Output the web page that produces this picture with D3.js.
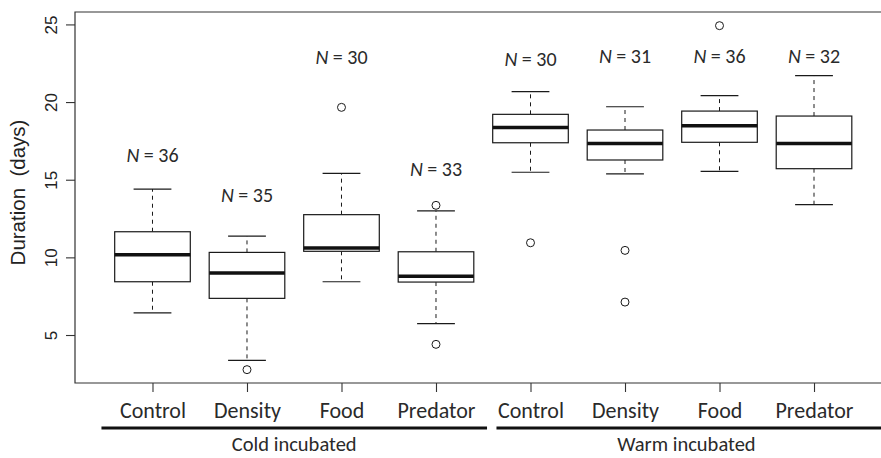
<!DOCTYPE html>
<html>
<head>
<meta charset="utf-8">
<script src="https://cdn.jsdelivr.net/npm/d3@7"></script>
<style>
  html, body { margin: 0; padding: 0; background: #fff; }
  svg { display: block; }
</style>
</head>
<body>
<svg id="chart" width="881" height="458"></svg>
<script>
// ---- data ----
const categories = ["Control", "Density", "Food", "Predator", "Control", "Density", "Food", "Predator"];
const groups = ["Cold incubated", "Warm incubated"];
const groupSpans = [[0.46, 4.54], [4.64, 8.75]];
const groupLabelAt = [2.5, 6.65];
const whiskerLow  = [6.42, 3.37, 8.43, 5.73, 15.48, 15.37, 15.54, 13.39];
const q1          = [8.43, 7.36, 10.39, 8.41, 17.38, 16.27, 17.41, 15.71];
const median      = [10.17, 8.99, 10.60, 8.78, 18.37, 17.34, 18.48, 17.34];
const q3          = [11.65, 10.32, 12.75, 10.36, 19.21, 18.20, 19.42, 19.10];
const whiskerHigh = [14.40, 11.37, 15.41, 13.00, 20.67, 19.70, 20.41, 21.70];
const outliers    = [[], [2.77], [19.66], [13.35, 4.40], [10.94], [10.45, 7.12], [24.92], []];
const nValues     = [36, 35, 30, 33, 30, 31, 36, 32];
const nLabelAt    = [16.59, 14.01, 22.90, 15.69, 22.77, 22.96, 22.96, 22.96];
const yTicks      = [5, 10, 15, 20, 25];
const yLabel      = "Duration  (days)";

(function () {
// ---- layout ----
const svg = d3.select("#chart");
const mLeft = 75, mTop = 12, mBottom = 383, mRight = 891.5;
const x = d3.scaleLinear().domain([0.18, 8.82]).range([mLeft, mRight]);
const y = d3.scaleLinear().domain([1.91, 25.80]).range([mBottom, mTop]);
const ink = "#1a1a1a";
const boxHalf = x(1.4) - x(1);   // 0.8 box width
const capHalf = boxHalf / 2;
const labelFont = "Carlito, Lato, 'Open Sans', sans-serif";

const data = categories.map((c, i) => ({
  pos: i + 1, cat: c,
  lo: whiskerLow[i], q1: q1[i], med: median[i], q3: q3[i], hi: whiskerHigh[i],
  out: outliers[i], n: nValues[i], nAt: nLabelAt[i]
}));

// frame (right edge is outside the window)
svg.append("path")
  .attr("d", `M${mRight},${mTop}H${mLeft}V${mBottom}H${mRight}`)
  .attr("fill", "none").attr("stroke", "#333").attr("stroke-width", 1.2);

// y axis
const yAxis = d3.axisLeft(y).tickValues(yTicks).tickSize(9).tickFormat(d3.format("d"));
const gy = svg.append("g").attr("transform", `translate(${mLeft},0)`).call(yAxis);
gy.select(".domain").remove();
gy.selectAll(".tick line").attr("stroke", "#333").attr("stroke-width", 1.1);
gy.selectAll(".tick text")
  .attr("x", null).attr("dy", null)
  .attr("transform", "translate(-24,0) rotate(-90)")
  .attr("text-anchor", "middle")
  .attr("dominant-baseline", "central")
  .style("font-family", "'Liberation Sans', Arial, sans-serif")
  .style("font-size", "17px").attr("fill", "#222");

svg.append("text")
  .attr("transform", `translate(17,${(mTop + mBottom) / 2 - 5}) rotate(-90)`)
  .attr("text-anchor", "middle").attr("dominant-baseline", "central")
  .style("font-family", "'Liberation Sans', Arial, sans-serif")
  .style("font-size", "20.5px").attr("fill", "#222")
  .style("white-space", "pre")
  .text(yLabel);

// x axis
const xAxis = d3.axisBottom(x).tickValues(d3.range(1, 9)).tickSize(9).tickFormat(i => categories[i - 1]);
const gx = svg.append("g").attr("transform", `translate(0,${mBottom})`).call(xAxis);
gx.select(".domain").remove();
gx.selectAll(".tick line").attr("stroke", "#333").attr("stroke-width", 1.1);
gx.selectAll(".tick text")
  .attr("y", 27).attr("dy", "0.35em")
  .style("font-family", labelFont).style("font-size", "22px").attr("fill", "#2a2a2a");

// group underlines and labels
groups.forEach((g, i) => {
  svg.append("line")
    .attr("x1", x(groupSpans[i][0])).attr("x2", x(groupSpans[i][1]))
    .attr("y1", 428).attr("y2", 428)
    .attr("stroke", "#111").attr("stroke-width", 3);
  svg.append("text")
    .attr("x", x(groupLabelAt[i])).attr("y", 451)
    .attr("text-anchor", "middle")
    .style("font-family", labelFont).style("font-size", "20.5px").attr("fill", "#2a2a2a")
    .text(g);
});

// boxes
const gb = svg.append("g").selectAll("g").data(data).join("g");
gb.append("line") // upper whisker
  .attr("x1", d => x(d.pos)).attr("x2", d => x(d.pos))
  .attr("y1", d => y(d.q3)).attr("y2", d => y(d.hi))
  .attr("stroke", ink).attr("stroke-width", 1).attr("stroke-dasharray", "4,4");
gb.append("line") // lower whisker
  .attr("x1", d => x(d.pos)).attr("x2", d => x(d.pos))
  .attr("y1", d => y(d.q1)).attr("y2", d => y(d.lo))
  .attr("stroke", ink).attr("stroke-width", 1).attr("stroke-dasharray", "4,4");
gb.append("line")
  .attr("x1", d => x(d.pos) - capHalf).attr("x2", d => x(d.pos) + capHalf)
  .attr("y1", d => y(d.hi)).attr("y2", d => y(d.hi))
  .attr("stroke", ink).attr("stroke-width", 1.2);
gb.append("line")
  .attr("x1", d => x(d.pos) - capHalf).attr("x2", d => x(d.pos) + capHalf)
  .attr("y1", d => y(d.lo)).attr("y2", d => y(d.lo))
  .attr("stroke", ink).attr("stroke-width", 1.2);
gb.append("rect")
  .attr("x", d => x(d.pos) - boxHalf).attr("width", boxHalf * 2)
  .attr("y", d => y(d.q3)).attr("height", d => y(d.q1) - y(d.q3))
  .attr("fill", "#fff").attr("stroke", ink).attr("stroke-width", 1.2);
gb.append("line")
  .attr("x1", d => x(d.pos) - boxHalf).attr("x2", d => x(d.pos) + boxHalf)
  .attr("y1", d => y(d.med)).attr("y2", d => y(d.med))
  .attr("stroke", "#111").attr("stroke-width", 3.5);
gb.selectAll("circle").data(d => d.out.map(v => ({pos: d.pos, v}))).join("circle")
  .attr("cx", d => x(d.pos)).attr("cy", d => y(d.v)).attr("r", 4)
  .attr("fill", "none").attr("stroke", ink).attr("stroke-width", 1);

// N labels
const nt = svg.append("g").selectAll("text").data(data).join("text")
  .attr("x", d => x(d.pos)).attr("y", d => y(d.nAt))
  .attr("text-anchor", "middle").attr("dominant-baseline", "central")
  .style("font-family", labelFont).style("font-size", "20px").attr("fill", "#2a2a2a");
nt.append("tspan").style("font-style", "italic").text("N");
nt.append("tspan").text(d => " = " + d.n);
})();
</script>
</body>
</html>
